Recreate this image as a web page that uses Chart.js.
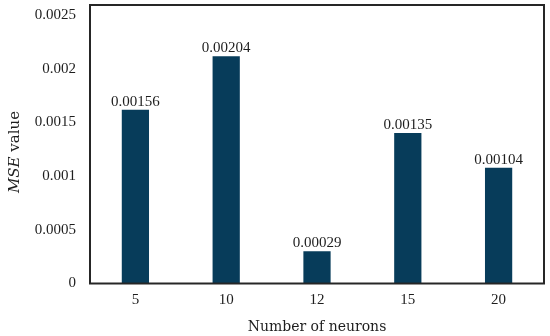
<!DOCTYPE html>
<html><head><meta charset="utf-8">
<script src="https://cdn.jsdelivr.net/npm/chart.js@4"></script>
<style>html,body{margin:0;padding:0;background:#fff}#wrap{width:550px;height:336px}</style>
</head><body><div id="wrap"><canvas id="c" width="550" height="336"></canvas></div>
<script>
const categories = ['5', '10', '12', '15', '20'];
const mseValues = [0.00156, 0.00204, 0.00029, 0.00135, 0.00104];
const valueLabels = ['0.00156', '0.00204', '0.00029', '0.00135', '0.00104'];
const yTickValues = [0, 0.0005, 0.001, 0.0015, 0.002, 0.0025];
const yTickLabels = ['0', '0.0005', '0.001', '0.0015', '0.002', '0.0025'];
const xTitle = 'Number of neurons';
const yTitleItalic = 'MSE';
const yTitleRest = ' value';

const numFont = 'Liberation Serif';
const titleFont = 'DejaVu Serif';
const ink = '#1e1e1e';

const boxPlugin = {
  id: 'box',
  afterDatasetsDraw(chart) {
    const {ctx, chartArea: a} = chart;
    ctx.save();
    ctx.strokeStyle = '#262626';
    ctx.lineWidth = 2;
    ctx.strokeRect(a.left, a.top, a.right - a.left, a.bottom - a.top);
    ctx.restore();
    const meta = chart.getDatasetMeta(0);
    ctx.save();
    ctx.font = '15px "' + numFont + '"';
    ctx.fillStyle = ink;
    ctx.textAlign = 'center';
    ctx.textBaseline = 'alphabetic';
    meta.data.forEach((el, i) => {
      ctx.fillText(valueLabels[i], el.x, el.y - 4);
    });
    ctx.restore();
  },
  afterDraw(chart) {
    const {ctx} = chart;
    ctx.save();
    ctx.translate(15, 152);
    ctx.rotate(-Math.PI / 2);
    ctx.fillStyle = ink;
    ctx.textBaseline = 'middle';
    const fi = 'italic 15px "' + titleFont + '"';
    const fr = '15px "' + titleFont + '"';
    ctx.font = fi; const w1 = ctx.measureText(yTitleItalic).width;
    ctx.font = fr; const w2 = ctx.measureText(yTitleRest).width;
    let x = -(w1 + w2) / 2;
    ctx.textAlign = 'left';
    ctx.font = fi; ctx.fillText(yTitleItalic, x, 0);
    ctx.font = fr; ctx.fillText(yTitleRest, x + w1, 0);
    ctx.restore();
  }
};

new Chart(document.getElementById('c'), {
  type: 'bar',
  data: {
    labels: categories,
    datasets: [{
      data: mseValues,
      yAxisID: 'y',
      backgroundColor: '#073c5a',
      borderWidth: 0,
      categoryPercentage: 0.6,
      barPercentage: 0.5
    }]
  },
  options: {
    responsive: false,
    animation: false,
    devicePixelRatio: 1,
    layout: {padding: {top: 5, right: 6, left: 0, bottom: 0}},
    plugins: {legend: {display: false}, tooltip: {enabled: false}},
    scales: {
      x: {
        grid: {display: false, drawTicks: false},
        border: {display: false},
        ticks: {font: {family: numFont, size: 15}, color: ink, padding: 8},
        title: {display: true, text: xTitle, font: {family: titleFont, size: 14}, color: ink, padding: {top: 0, bottom: 0}},
        afterFit(s) { s.height = 52.5; s.paddingLeft = 0; s.paddingRight = 0; }
      },
      y: {
        display: false,
        min: 0,
        max: 0.0025
      },
      yl: {
        position: 'left',
        type: 'linear',
        min: 0,
        max: 0.0025 * 278.5 / 268.5,
        afterBuildTicks(s) { s.ticks = yTickValues.map(v => ({value: v})); },
        grid: {display: false, drawTicks: false},
        border: {display: false},
        ticks: {
          font: {family: numFont, size: 15}, color: ink, padding: 14,
          callback: (v, i) => yTickLabels[i]
        },
        afterFit(s) { s.width = 90; s.paddingTop = 0; s.paddingBottom = 0; }
      }
    }
  },
  plugins: [boxPlugin]
});
</script></body></html>
